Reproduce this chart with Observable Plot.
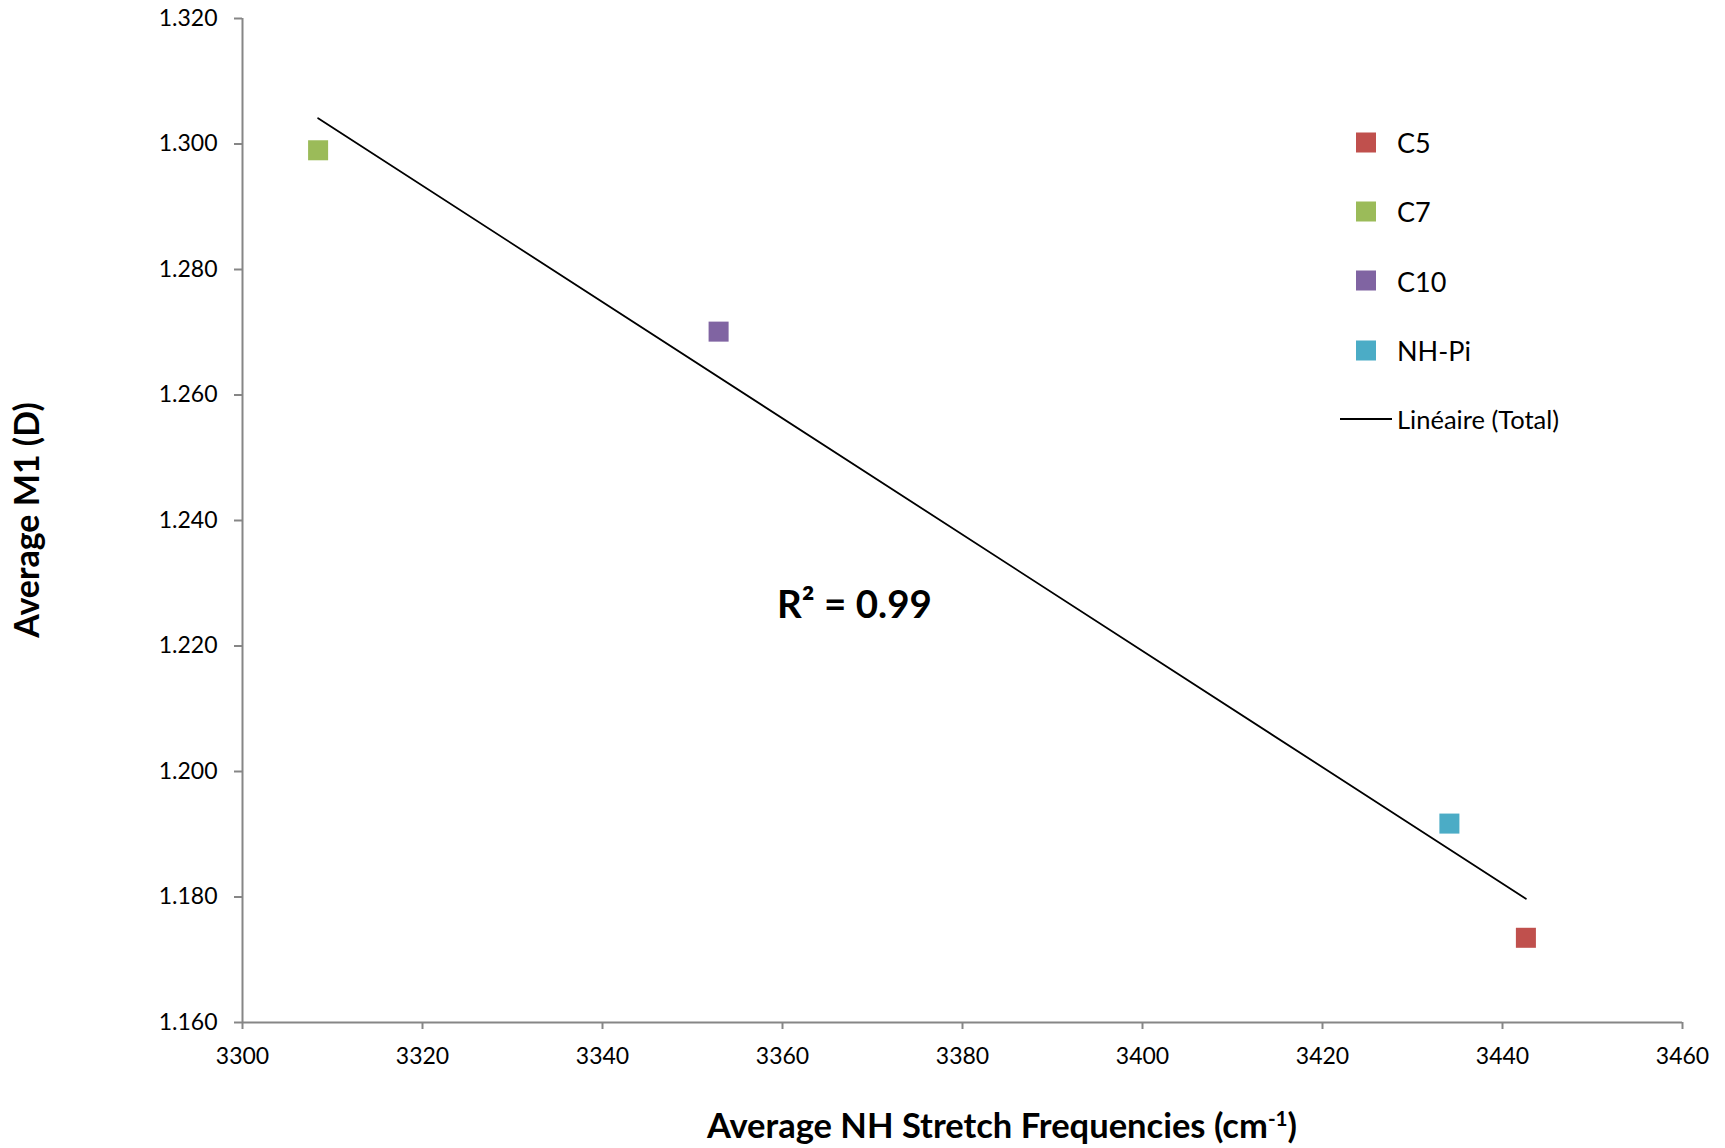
<!DOCTYPE html>
<html>
<head>
<meta charset="utf-8">
<script src="https://cdn.jsdelivr.net/npm/d3@7"></script>
<script src="https://cdn.jsdelivr.net/npm/@observablehq/plot@0.6"></script>
<style>
  html, body { margin: 0; padding: 0; background: #fff; }
  #wrap { position: relative; width: 1725px; height: 1148px; font-family: Lato, "Open Sans", sans-serif; color: #000; }
  #wrap svg { position: absolute; left: 0; top: 0; }
  .ttl { position: absolute; font-weight: bold; white-space: nowrap; line-height: 1; }
  #xtitle { left: 1002px; top: 1108px; transform: translateX(-50%); font-size: 34.5px; }
  #xtitle sup { font-size: 0.6em; vertical-align: 0.6em; line-height: 0; }
  #ytitle { left: 26px; top: 520px; transform: translate(-50%, -50%) rotate(-90deg); font-size: 34px; }
  .leg { position: absolute; display: flex; align-items: center; white-space: nowrap; font-size: 27px; transform: translateY(-50%); }
  .sw { width: 20px; height: 20px; margin-right: 21px; box-sizing: border-box; }
  .ln { width: 52px; height: 2px; background: #000; margin-right: 5px; }
</style>
</head>
<body>
<div id="wrap"></div>
<script>
// ---- data ----
const series = ["C5", "C7", "C10", "NH-Pi"];
const freq   = [3442.6, 3308.4, 3352.9, 3434.1];   // Average NH stretch frequency (cm-1)
const m1     = [1.1735, 1.2990, 1.2701, 1.1917];   // Average M1 (D)
const colors = ["#C0504D", "#9BBB59", "#8064A2", "#4BACC6"];
const xTicks = [3300, 3320, 3340, 3360, 3380, 3400, 3420, 3440, 3460];
const yTicks = [1.16, 1.18, 1.20, 1.22, 1.24, 1.26, 1.28, 1.30, 1.32];
const r2Label = ["R² = 0.99"];
const r2Pos = [3368, 1.2265];
const lineLegend = "Linéaire (Total)";

const data = series.map((s, i) => ({series: s, x: freq[i], y: m1[i]}));
const xDomain = [xTicks[0], xTicks[xTicks.length - 1]];
const yDomain = [yTicks[0], yTicks[yTicks.length - 1]];
const axisGray = "#868686";

const chart = Plot.plot({
  width: 1725,
  height: 1148,
  marginLeft: 242,
  marginRight: 43,
  marginTop: 18,
  marginBottom: 126,
  style: {fontFamily: "Lato, 'Open Sans', sans-serif", fontSize: "23px", color: "#000", background: "#fff"},
  x: {domain: xDomain},
  y: {domain: yDomain},
  color: {domain: series, range: colors},
  marks: [
    Plot.ruleX([xDomain[0]], {stroke: axisGray, strokeWidth: 2}),
    Plot.ruleY([yDomain[0]], {stroke: axisGray, strokeWidth: 2}),
    Plot.axisY(yTicks, {tickSize: 8, tickPadding: 17, stroke: axisGray, strokeWidth: 2, fill: "#000", tickFormat: d3.format(".3f"), label: null, fontSize: 23}),
    Plot.axisX(xTicks, {tickSize: 7, tickPadding: 18, stroke: axisGray, strokeWidth: 2, fill: "#000", tickFormat: d3.format("d"), label: null, fontSize: 23}),
    Plot.linearRegressionY(data, {x: "x", y: "y", ci: 0, stroke: "#000", strokeWidth: 1.8}),
    Plot.dot(data, {x: "x", y: "y", symbol: "square", r: 11.3, fill: d => d.series, stroke: "none"}),
    Plot.text(r2Label, {x: () => r2Pos[0], y: () => r2Pos[1], text: d => d, fontSize: 38.5, fontWeight: "bold", fill: "#000"})
  ]
});

const wrap = document.getElementById("wrap");
wrap.appendChild(chart);

// axis titles
const xt = document.createElement("div");
xt.id = "xtitle"; xt.className = "ttl";
xt.innerHTML = "Average NH Stretch Frequencies (cm<sup>-1</sup>)";
wrap.appendChild(xt);
const yt = document.createElement("div");
yt.id = "ytitle"; yt.className = "ttl";
yt.textContent = "Average M1 (D)";
wrap.appendChild(yt);

// legend
const legTop = [142, 211, 280.5, 350];
series.forEach((s, i) => {
  const d = document.createElement("div");
  d.className = "leg";
  d.style.left = "1356px";
  d.style.top = legTop[i] + "px";
  d.innerHTML = `<div class="sw" style="background:${colors[i]}"></div><span>${s}</span>`;
  wrap.appendChild(d);
});
const ll = document.createElement("div");
ll.className = "leg";
ll.style.left = "1340px";
ll.style.top = "419px";
ll.style.fontSize = "25.5px";
ll.innerHTML = `<div class="ln"></div><span>${lineLegend}</span>`;
wrap.appendChild(ll);
</script>
</body>
</html>
